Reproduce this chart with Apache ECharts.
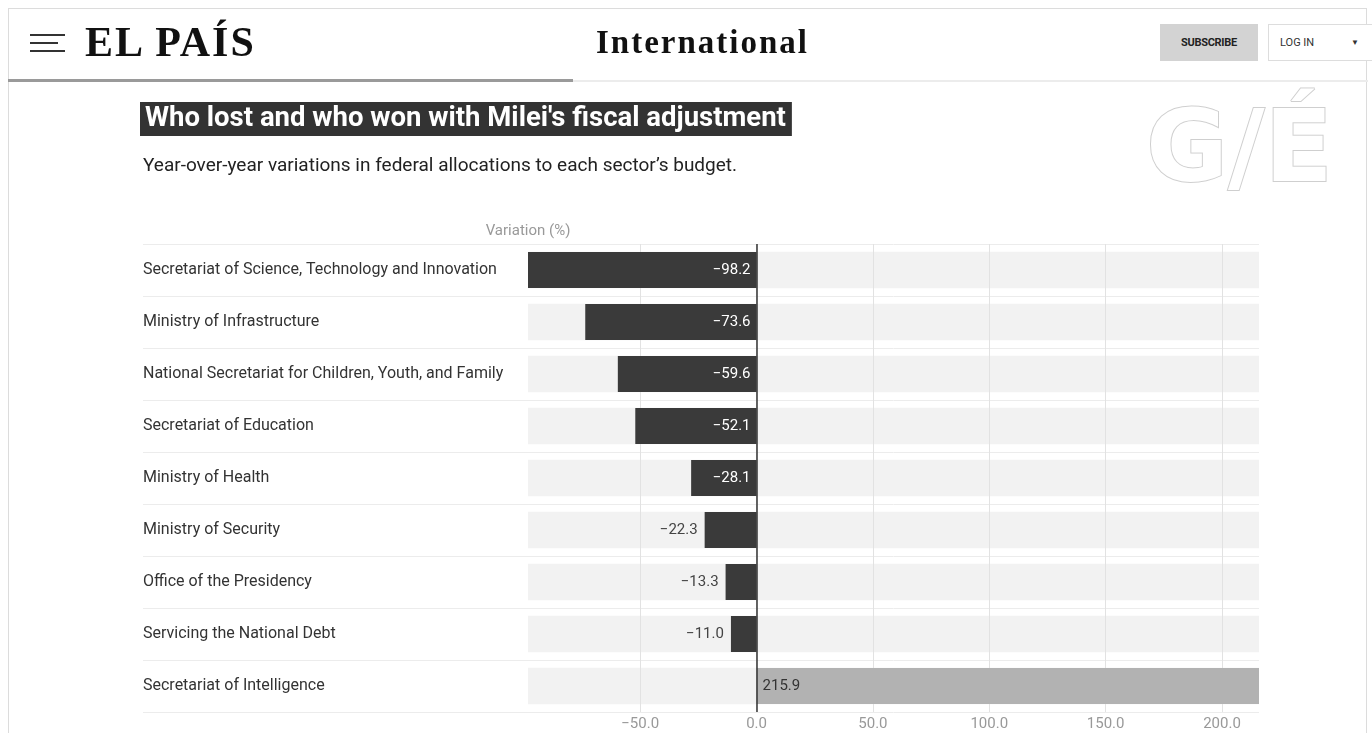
<!DOCTYPE html>
<html>
<head>
<meta charset="utf-8">
<script src="https://cdn.jsdelivr.net/npm/echarts@6/dist/echarts.min.js"></script>
<style>
  html, body { margin:0; padding:0; background:#fff; width:1372px; height:733px; overflow:hidden; }
  #chart { position:absolute; left:0; top:0; width:1372px; height:733px; }
  .frame { position:absolute; left:8px; top:8px; width:1359px; height:740px; border:1px solid #dcdcdc; box-sizing:border-box; pointer-events:none; }
  .hdr { position:absolute; z-index:5; font-family:"Liberation Serif", serif; }
  .burger { position:absolute; left:30px; height:2px; background:#333; }
  .logo { left:85px; top:18px; font-size:42px; font-weight:bold; letter-spacing:2px; color:#111; line-height:48px; }
  .section { left:596px; top:22px; font-size:33px; font-weight:bold; letter-spacing:2px; color:#111; line-height:40px; }
  .sub { position:absolute; left:1160px; top:24px; width:98px; height:37px; background:#d3d3d3; font-family:"Liberation Sans Narrow","Roboto",sans-serif; font-weight:bold; font-size:11px; color:#222; text-align:center; line-height:37px; z-index:5; letter-spacing:-0.3px;}
  .login { position:absolute; left:1268px; top:24px; width:110px; height:37px; border:1px solid #ddd; box-sizing:border-box; background:#fff; font-family:"Liberation Sans Narrow","Roboto",sans-serif; font-size:11px; color:#333; line-height:35px; padding-left:11px; z-index:5; }
  .login span { position:absolute; left:82px; top:0; font-size:8px; }
  .prog1 { position:absolute; left:8px; top:79px; width:565px; height:3px; background:#9a9a9a; z-index:5; }
  .prog2 { position:absolute; left:573px; top:80px; width:795px; height:2px; background:#ececec; z-index:5; }
</style>
</head>
<body>
<div id="chart"></div>
<div class="frame"></div>
<div class="burger" style="top:34px;width:35px;"></div>
<div class="burger" style="top:42px;width:28px;"></div>
<div class="burger" style="top:50px;width:35px;"></div>
<div class="hdr logo">EL PAÍS</div>
<div class="hdr section">International</div>
<div class="sub">SUBSCRIBE</div>
<div class="login">LOG IN<span>▼</span></div>
<div class="prog1"></div>
<div class="prog2"></div>
<script>
// ---- data ----
const titleText = "Who lost and who won with Milei's fiscal adjustment";
const subtitleText = "Year-over-year variations in federal allocations to each sector’s budget.";
const axisName = "Variation (%)";
const categories = [
  "Secretariat of Science, Technology and Innovation",
  "Ministry of Infrastructure",
  "National Secretariat for Children, Youth, and Family",
  "Secretariat of Education",
  "Ministry of Health",
  "Ministry of Security",
  "Office of the Presidency",
  "Servicing the National Debt",
  "Secretariat of Intelligence"
];
const variation = [-98.2, -73.6, -59.6, -52.1, -28.1, -22.3, -13.3, -11.0, 215.9];
const axisMin = -98.2;
const axisMax = 215.9;

// ---- chart ----
const FONT = "Roboto, 'Noto Sans', sans-serif";
const fmt = v => (v < 0 ? '\u2212' : '') + Math.abs(v).toFixed(1);

const barData = variation.map(v => {
  let label;
  if (v > 0) {
    label = { position: 'insideLeft', color: '#333', distance: 6 };
  } else if (Math.abs(v) > 25) {
    label = { position: 'insideRight', color: '#fff', distance: 6 };
  } else {
    label = { position: 'left', color: '#444', distance: 7 };
  }
  return {
    value: v,
    itemStyle: { color: v > 0 ? '#b2b2b2' : '#3a3a3a' },
    label: label
  };
});

const chart = echarts.init(document.getElementById('chart'), null, { renderer: 'canvas' });
chart.setOption({
  animation: false,
  backgroundColor: 'transparent',
  title: [
    {
      text: titleText,
      left: 140, top: 103,
      backgroundColor: '#333',
      padding: [3, 6, 3, 5],
      textStyle: { color: '#fff', fontSize: 27.5, fontWeight: 'bold', fontFamily: FONT, lineHeight: 26 }
    },
    {
      text: subtitleText,
      left: 140, top: 157,
      padding: [0, 3],
      textStyle: { color: '#222', fontSize: 19, fontWeight: 'normal', fontFamily: FONT }
    }
  ],
  graphic: [
    {
      type: 'text', left: 1145, top: 104, z: 10,
      style: {
        text: 'G/É', fontSize: 100, fontWeight: 'bold', fontFamily: "'DejaVu Sans', sans-serif",
        fill: '#ffffff', stroke: '#cfcfcf', lineWidth: 2,
        shadowColor: 'rgba(0,0,0,0.35)', shadowBlur: 6, shadowOffsetX: 2, shadowOffsetY: 3
      }
    }
  ],
  grid: { left: 528, right: 113, top: 244, bottom: 21, containLabel: false },
  xAxis: {
    type: 'value',
    min: axisMin,
    max: axisMax,
    z: 1,
    axisLine: { show: false },
    axisTick: { show: false },
    splitLine: { show: true, showMinLine: false, showMaxLine: false, lineStyle: { color: '#e2e2e2', width: 1 } },
    axisLabel: {
      color: '#999', fontSize: 15, fontFamily: FONT, margin: 5,
      showMinLabel: false, showMaxLabel: false,
      formatter: v => (Math.abs(v % 50) < 1e-6 ? fmt(v) : '')
    }
  },
  yAxis: {
    type: 'category',
    data: categories,
    inverse: true,
    z: 1,
    name: axisName,
    nameLocation: 'start',
    nameGap: 5,
    nameTextStyle: { color: '#999', fontSize: 15, fontFamily: FONT, align: 'center', verticalAlign: 'bottom' },
    axisLine: { show: false, onZero: false },
    axisTick: { show: true, length: 385, lineStyle: { color: '#ececec', width: 1 } },
    splitLine: { show: true, lineStyle: { color: '#ececec', width: 1 } },
    axisLabel: { align: 'left', margin: 385, color: '#333', fontSize: 16, fontFamily: FONT, padding: [3, 0, 0, 0] }
  },
  series: [
    {
      type: 'custom',
      z: 0,
      silent: true,
      data: categories.map((c, i) => [0, i]),
      encode: { x: 0, y: 1 },
      renderItem: function (params, api) {
        const cs = params.coordSys;
        const yc = api.coord([0, api.value(1)])[1];
        const h = api.size([0, 1])[1] * 0.70;
        return {
          type: 'rect',
          shape: { x: cs.x, y: yc - h / 2, width: cs.width, height: h },
          style: { fill: '#f2f2f2' }
        };
      }
    },
    {
      type: 'bar',
      z: 2,
      barWidth: 36,
      data: barData,
      label: {
        show: true,
        fontSize: 15,
        fontFamily: FONT,
        formatter: p => fmt(p.value)
      },
      markLine: {
        silent: true,
        symbol: 'none',
        label: { show: false },
        lineStyle: { color: '#333', width: 1.5, type: 'solid' },
        data: [{ xAxis: 0 }]
      }
    }
  ]
});
</script>
</body>
</html>
